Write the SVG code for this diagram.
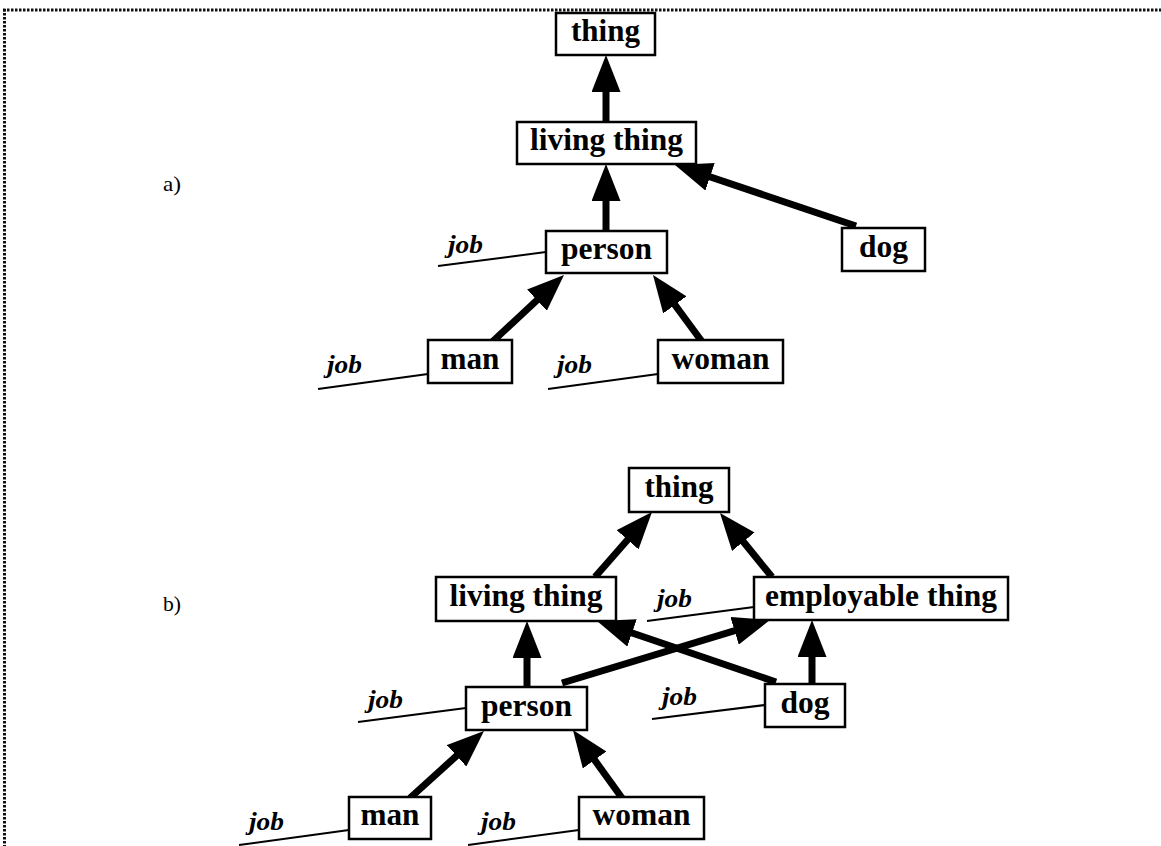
<svg xmlns="http://www.w3.org/2000/svg" width="1161" height="846" viewBox="0 0 1161 846">
  <style>
    .box rect { fill: #fff; stroke: #000; stroke-width: 2.5; }
    .box text { font-family: "Liberation Serif", "Times New Roman", serif; font-weight: bold; font-size: 31px; text-anchor: middle; fill: #000; }
    .edge { stroke: #000; stroke-width: 7; fill: none; marker-end: url(#head); }
    .slot line { stroke: #000; stroke-width: 2; }
    .slot text { font-family: "Liberation Serif", "Times New Roman", serif; font-weight: bold; font-style: italic; font-size: 26px; fill: #000; }
    .tag { font-family: "Liberation Serif", "Times New Roman", serif; font-size: 21px; fill: #000; }
    .frame { stroke: #111; stroke-width: 3; stroke-dasharray: 2.5 1.5; fill: none; }
  </style>
  <defs>
    <marker id="head" markerUnits="userSpaceOnUse" markerWidth="37" markerHeight="29" refX="27" refY="14.5" orient="auto" viewBox="0 0 37 29">
      <path d="M0,0 L37,14.5 L0,29 z" fill="#000"/>
    </marker>
  </defs>

  <rect x="0" y="0" width="1161" height="846" fill="#fff"/>

  <!-- dotted frame along top and left -->
  <line class="frame" x1="3" y1="10" x2="1161" y2="10"/>
  <line class="frame" x1="4.5" y1="9" x2="4.5" y2="846"/>

  <text class="tag" x="163" y="191" textLength="18" lengthAdjust="spacingAndGlyphs">a)</text>
  <text class="tag" x="163" y="611" textLength="18" lengthAdjust="spacingAndGlyphs">b)</text>

  <!-- inheritance links -->
  <g id="connectors">
    <!-- hierarchy a -->
    <line class="edge" x1="606" y1="122" x2="606" y2="65"/>
    <line class="edge" x1="606" y1="231" x2="606" y2="174"/>
    <line class="edge" x1="856" y1="226" x2="684.5" y2="168.2"/>
    <line class="edge" x1="491" y1="343" x2="556.7" y2="281.8"/>
    <line class="edge" x1="703" y1="343" x2="658.9" y2="283.1"/>
    <!-- hierarchy b -->
    <line class="edge" x1="595" y1="577" x2="645.4" y2="519.5"/>
    <line class="edge" x1="772" y1="577" x2="726.3" y2="520.8"/>
    <line class="edge" x1="527" y1="687" x2="527" y2="631"/>
    <line class="edge" x1="562" y1="683" x2="760.4" y2="622.9"/>
    <line class="edge" x1="776" y1="682" x2="606.5" y2="624.2"/>
    <line class="edge" x1="812" y1="684" x2="812" y2="630"/>
    <line class="edge" x1="410" y1="798" x2="476.6" y2="737.7"/>
    <line class="edge" x1="622" y1="798" x2="578.8" y2="738.1"/>
  </g>

  <!-- job slots -->
  <g id="slots" class="slot">
    <line x1="438" y1="266" x2="546" y2="252"/>
    <text x="448" y="253" textLength="35" lengthAdjust="spacingAndGlyphs">job</text>
    <line x1="318" y1="389" x2="428" y2="374"/>
    <text x="327" y="373" textLength="35" lengthAdjust="spacingAndGlyphs">job</text>
    <line x1="548" y1="389" x2="658" y2="374"/>
    <text x="557" y="373" textLength="35" lengthAdjust="spacingAndGlyphs">job</text>
    <line x1="647" y1="621" x2="754" y2="607"/>
    <text x="657" y="607" textLength="35" lengthAdjust="spacingAndGlyphs">job</text>
    <line x1="358" y1="722" x2="466" y2="708"/>
    <text x="368" y="708" textLength="35" lengthAdjust="spacingAndGlyphs">job</text>
    <line x1="652" y1="719" x2="765" y2="705"/>
    <text x="662" y="705" textLength="35" lengthAdjust="spacingAndGlyphs">job</text>
    <line x1="239" y1="845" x2="349" y2="830"/>
    <text x="249" y="830" textLength="35" lengthAdjust="spacingAndGlyphs">job</text>
    <line x1="468" y1="845" x2="579" y2="830"/>
    <text x="481" y="830" textLength="35" lengthAdjust="spacingAndGlyphs">job</text>
  </g>

  <!-- hierarchy a nodes -->
  <g id="a-thing" class="box"><rect x="556" y="13" width="99" height="42"/><text x="605.5" y="41" textLength="69" lengthAdjust="spacingAndGlyphs">thing</text></g>
  <g id="a-living-thing" class="box"><rect x="517" y="122" width="179" height="42"/><text x="606.5" y="150" textLength="153" lengthAdjust="spacingAndGlyphs">living thing</text></g>
  <g id="a-person" class="box"><rect x="546" y="231" width="121" height="42"/><text x="606.5" y="259" textLength="91" lengthAdjust="spacingAndGlyphs">person</text></g>
  <g id="a-dog" class="box"><rect x="842" y="228" width="83" height="43"/><text x="883.5" y="256.5" textLength="49" lengthAdjust="spacingAndGlyphs">dog</text></g>
  <g id="a-man" class="box"><rect x="428" y="340" width="84" height="43"/><text x="470" y="368.5" textLength="59" lengthAdjust="spacingAndGlyphs">man</text></g>
  <g id="a-woman" class="box"><rect x="658" y="340" width="125" height="43"/><text x="720.5" y="368.5" textLength="98" lengthAdjust="spacingAndGlyphs">woman</text></g>

  <!-- hierarchy b nodes -->
  <g id="b-thing" class="box"><rect x="629" y="468" width="100" height="44"/><text x="679" y="497" textLength="69" lengthAdjust="spacingAndGlyphs">thing</text></g>
  <g id="b-living-thing" class="box"><rect x="436" y="577" width="180" height="44"/><text x="526" y="606" textLength="153" lengthAdjust="spacingAndGlyphs">living thing</text></g>
  <g id="b-employable-thing" class="box"><rect x="754" y="577" width="254" height="43"/><text x="881" y="605.5" textLength="232" lengthAdjust="spacingAndGlyphs">employable thing</text></g>
  <g id="b-person" class="box"><rect x="466" y="687" width="121" height="43"/><text x="526.5" y="715.5" textLength="91" lengthAdjust="spacingAndGlyphs">person</text></g>
  <g id="b-dog" class="box"><rect x="765" y="684" width="80" height="43"/><text x="805" y="712.5" textLength="49" lengthAdjust="spacingAndGlyphs">dog</text></g>
  <g id="b-man" class="box"><rect x="349" y="797" width="82" height="42"/><text x="390" y="825" textLength="59" lengthAdjust="spacingAndGlyphs">man</text></g>
  <g id="b-woman" class="box"><rect x="579" y="797" width="125" height="42"/><text x="641.5" y="825" textLength="98" lengthAdjust="spacingAndGlyphs">woman</text></g>
</svg>
